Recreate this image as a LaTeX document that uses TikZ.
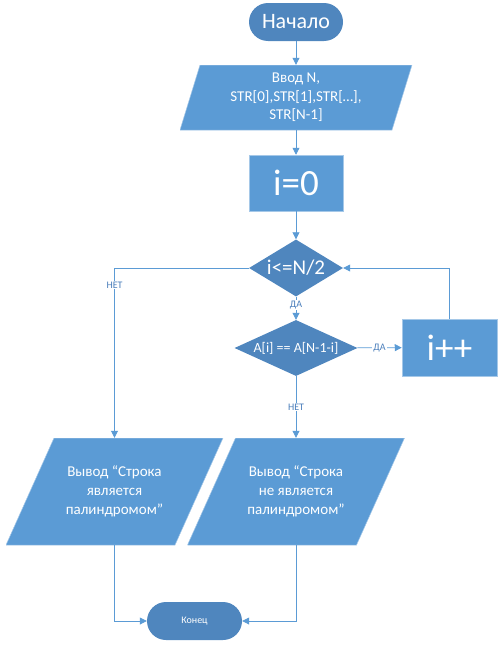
\documentclass[tikz,border=0pt]{standalone}
\usepackage{fontspec}
\setmainfont{Carlito}
\usetikzlibrary{shapes.geometric}
\usetikzlibrary{positioning}
\usetikzlibrary{arrows.meta}
\usepackage{xcolor}
\definecolor{boxblue}{HTML}{5B9BD5}
\definecolor{darkblue}{HTML}{4F86BE}
\definecolor{lineblue}{HTML}{5B9BD5}
\definecolor{labelblue}{HTML}{4A7EBB}

\begin{document}
\begin{tikzpicture}[x=1pt, y=-1pt,
    terminal/.style={rectangle, rounded corners=19pt, fill=darkblue, text=white, minimum width=94pt, minimum height=38pt},
    process/.style={rectangle, fill=boxblue, draw=boxblue!55!white, line width=0.5pt, text=white, minimum width=94pt, minimum height=56pt, font=\fontsize{37}{37}\selectfont},
    decision/.style={diamond, fill=darkblue, text=white, inner sep=0pt},
    io/.style n args={3}{rectangle, text=white, align=center, minimum width=#1, minimum height=#2,
        path picture={\filldraw[fill=boxblue, draw=boxblue!55!white, line width=0.5pt]
            ([xshift=#3]path picture bounding box.north west) -- (path picture bounding box.north east)
            -- ([xshift=-#3]path picture bounding box.south east) -- (path picture bounding box.south west) -- cycle;}},
    line/.style={draw=lineblue, line width=0.8pt, -{Triangle[length=7pt, width=7pt]}},
    lab/.style={fill=white, text=labelblue, inner sep=1pt, font=\fontsize{10}{10}\selectfont}]

    \useasboundingbox (0,0) rectangle (502,648);

    % Start and input
    \node[terminal, font=\fontsize{22}{22}\selectfont] (start) at (296,22) {Начало};
    \node[io={232pt}{65pt}{20pt}, font=\fontsize{15}{18.5}\selectfont] (input) at (296,97.5) {Ввод N,\\STR[0],STR[1],STR[…],\\STR[N-1]};
    \node[process] (init) at (296,183) {i=0};

    % Loop condition and comparison
    \node[decision, minimum width=94pt, minimum height=57pt, aspect=1.65, font=\fontsize{21}{21}\selectfont] (cond) at (296,268) {i<=N/2};
    \node[decision, minimum width=123pt, minimum height=56pt, aspect=2.2, font=\fontsize{14}{14}\selectfont] (check) at (296,348) {A[i] == A[N-1-i]};
    \node[process, minimum width=95pt, minimum height=57pt] (inc) at (449.5,347.5) {i++};

    % Outputs and end
    \node[io={217pt}{107pt}{48pt}, font=\fontsize{15}{19}\selectfont] (yes) at (114.5,491.5) {Вывод “Строка\\является\\палиндромом”};
    \node[io={217pt}{107pt}{48pt}, font=\fontsize{15}{19}\selectfont] (no) at (296,491.5) {Вывод “Строка\\не является\\палиндромом”};
    \node[terminal, minimum width=95pt, font=\fontsize{10}{10}\selectfont] (end) at (194.5,621) {Конец};

    % Connectors
    \draw[line] (start) -- (input);
    \draw[line] (input) -- (init);
    \draw[line] (init) -- (cond);
    \draw[line] (cond) -- node[lab, pos=0.375] {ДА} (check);
    \draw[line] (check) -- node[lab] {ДА} (inc);
    \draw[line] (inc.north) |- (cond.east);
    \draw[line] (cond.west) -| node[lab, pos=0.55] {НЕТ} (yes.north);
    \draw[line] (check.south) -- node[lab] {НЕТ} (no.north);
    \draw[line] (yes.south) |- (end.west);
    \draw[line] (no.south) |- (end.east);
\end{tikzpicture}
\end{document}
